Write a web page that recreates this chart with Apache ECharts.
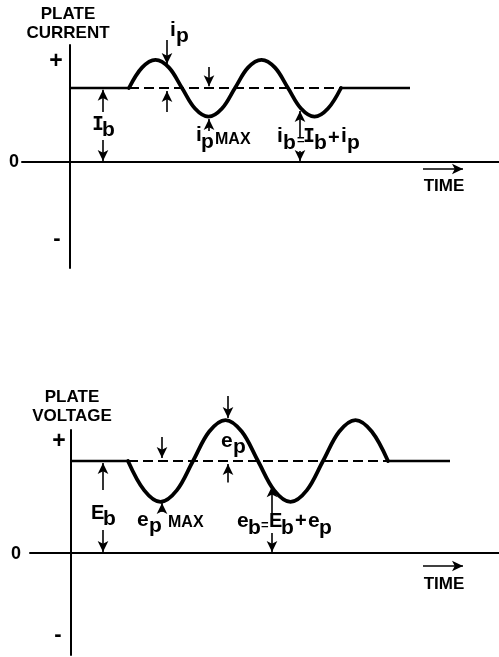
<!DOCTYPE html>
<html>
<head>
<meta charset="utf-8">
<script src="https://cdn.jsdelivr.net/npm/echarts@6/dist/echarts.min.js"></script>
<style>
  html, body { margin: 0; padding: 0; background: #fff; }
  #chart { width: 499px; height: 657px; }
</style>
</head>
<body>
<div id="chart"></div>
<script>
// --- plate current (top panel) ---
const curWaveT = [11.8, 14.4, 17.1, 19.8, 22.4, 25.0, 27.7, 30.4, 33.0, 35.6, 38.3, 41.0, 43.6, 46.2, 48.9, 51.6, 54.2];
const curWaveI = [4, 5.1, 5.52, 5.1, 4, 2.89, 2.45, 2.89, 4, 5.1, 5.52, 5.1, 4, 2.89, 2.45, 2.89, 4];
const curIb = 4;
const curEnd = 68;
// arrows: [t, from, to]
const curArrows = [
  [6.6, 2.7, 3.9], [6.6, 1.19, 0.05],
  [19.4, 6.6, 5.3], [19.4, 2.7, 3.84],
  [27.8, 5.14, 4.1], [27.8, 1.68, 2.32],
  [46.0, 1.35, 2.75], [46.0, 0.6, 0.05]
];
const curTimeArrow = [70.6, 78.6, -0.38];

// --- plate voltage (bottom panel) ---
const voltWaveT = [11.4, 14.65, 17.9, 21.15, 24.4, 27.65, 30.9, 34.15, 37.4, 40.65, 43.9, 47.15, 50.4, 53.65, 56.9, 60.15, 63.4];
const voltWaveE = [4, 2.72, 2.22, 2.72, 4, 5.28, 5.78, 5.28, 4, 2.72, 2.22, 2.72, 4, 5.28, 5.78, 5.28, 4];
const voltEb = 4;
const voltEnd = 75.8;
const voltArrows = [
  [6.4, 2.74, 3.91], [6.4, 1.0, 0.04],
  [18.2, 5.04, 4.13], [18.2, 1.78, 2.17],
  [31.4, 6.83, 5.87], [31.4, 3.07, 3.87],
  [40.2, 1.43, 2.9], [40.2, 0.87, 0.04]
];
const voltTimeArrow = [70.4, 78.4, -0.565];

const FONT = '"Liberation Sans", Arial, sans-serif';
const MONO = '"DejaVu Sans Mono", monospace';

function zip(a, b) { return a.map((v, i) => [v, b[i]]); }

function txt(x, y, s, size, align, family) {
  return {
    type: 'text', x: x, y: y, silent: true,
    style: {
      text: s, fontSize: size, fontWeight: 'bold', fontFamily: family || FONT,
      fill: '#000', align: align || 'left', verticalAlign: 'middle'
    }
  };
}

function markArrows(list, time) {
  const data = list.map(a => [{ coord: [a[0], a[1]] }, { coord: [a[0], a[2]] }]);
  data.push([{ coord: [time[0], time[2]] }, { coord: [time[1], time[2]] }]);
  return {
    silent: true,
    symbol: ['none', 'arrow'],
    symbolSize: [8, 11],
    label: { show: false },
    lineStyle: { color: '#000', width: 1.6, type: 'solid' },
    emphasis: { disabled: true },
    animation: false,
    data: data
  };
}

function baseSeries(xi, t0, t1, level, dashed, extra) {
  return Object.assign({
    type: 'line', xAxisIndex: xi, yAxisIndex: xi,
    data: [[t0, level], [t1, level]],
    showSymbol: false, silent: true, clip: false,
    lineStyle: { color: '#000', width: dashed ? 2.2 : 2.6, type: dashed ? [10, 5] : 'solid' }
  }, extra || {});
}

function waveSeries(xi, t, v) {
  return {
    type: 'line', xAxisIndex: xi, yAxisIndex: xi,
    data: zip(t, v), smooth: 0.35,
    showSymbol: false, silent: true, clip: false,
    lineStyle: { color: '#000', width: 3.8, cap: 'round', join: 'round' }
  };
}

const axisFrame = (min, max) => ({
  type: 'value', min: min, max: max,
  axisLine: { show: true, onZero: true, lineStyle: { color: '#000', width: 2 } },
  axisTick: { show: false }, axisLabel: { show: false }, splitLine: { show: false }
});
const hidden = (min, max) => ({
  type: 'value', min: min, max: max, show: false,
  axisLine: { show: false }, splitLine: { show: false }
});

const chart = echarts.init(document.getElementById('chart'), null, { renderer: 'canvas' });

chart.setOption({
  animation: false,
  backgroundColor: '#fff',
  grid: [
    { left: 22, right: 0, top: 45, height: 223 },   // top frame
    { left: 22, right: 0, top: 30, height: 238 },   // top data
    { left: 30, right: 0, top: 430, height: 225 },  // bottom frame
    { left: 30, right: 0, top: 385, height: 270 }   // bottom data
  ],
  xAxis: [
    Object.assign(axisFrame(-9.6, 85.8), { gridIndex: 0 }),
    Object.assign(hidden(-9.6, 85.8), { gridIndex: 1 }),
    Object.assign(axisFrame(-8.2, 85.6), { gridIndex: 2 }),
    Object.assign(hidden(-8.2, 85.6), { gridIndex: 3 })
  ],
  yAxis: [
    Object.assign(axisFrame(-5.73, 6.32), { gridIndex: 0 }),
    Object.assign(hidden(-5.73, 7.135), { gridIndex: 1 }),
    Object.assign(axisFrame(-4.435, 5.348), { gridIndex: 2 }),
    Object.assign(hidden(-4.435, 7.304), { gridIndex: 3 })
  ],
  series: [
    // top
    baseSeries(1, 0, curWaveT[0], curIb, false, { markLine: markArrows(curArrows, curTimeArrow) }),
    baseSeries(1, curWaveT[0], curWaveT[curWaveT.length - 1], curIb, true),
    baseSeries(1, curWaveT[curWaveT.length - 1], curEnd, curIb, false),
    waveSeries(1, curWaveT, curWaveI),
    // bottom
    baseSeries(3, 0, voltWaveT[0], voltEb, false, { markLine: markArrows(voltArrows, voltTimeArrow) }),
    baseSeries(3, voltWaveT[0], voltWaveT[voltWaveT.length - 1], voltEb, true),
    baseSeries(3, voltWaveT[voltWaveT.length - 1], voltEnd, voltEb, false),
    waveSeries(3, voltWaveT, voltWaveE)
  ],
  graphic: [
    // top panel text
    txt(68, 14, 'PLATE', 17, 'center'),
    txt(68, 33, 'CURRENT', 17, 'center'),
    txt(56, 62, '+', 23, 'center'),
    txt(14, 162, '0', 18, 'center'),
    txt(57, 239, '-', 22, 'center'),
    txt(444, 186, 'TIME', 17, 'center'),
    txt(170, 30, 'i', 21), txt(176, 36, 'p', 21),
    txt(92, 125, 'I', 20, 'left', MONO), txt(102, 130, 'b', 21),
    txt(196, 135, 'i', 21), txt(201, 142, 'p', 21), txt(215, 140, 'MAX', 16),
    txt(277, 136, 'i', 21), txt(283, 143, 'b', 21), txt(297, 140, '=', 13),
    txt(303, 137, 'I', 20, 'left', MONO), txt(314, 143, 'b', 21), txt(328, 138, '+', 20),
    txt(341, 136, 'i', 21), txt(347, 143, 'p', 21),
    // bottom panel text
    txt(72, 397, 'PLATE', 17, 'center'),
    txt(72, 416, 'VOLTAGE', 17, 'center'),
    txt(59, 442, '+', 23, 'center'),
    txt(16, 554, '0', 18, 'center'),
    txt(58, 635, '-', 22, 'center'),
    txt(444, 584, 'TIME', 17, 'center'),
    txt(91, 513, 'E', 20), txt(103, 519, 'b', 21),
    txt(137, 520, 'e', 21), txt(149, 526, 'p', 21), txt(168, 523, 'MAX', 16),
    txt(221, 441, 'e', 21), txt(233, 447, 'p', 21),
    txt(237, 521, 'e', 21), txt(248, 528, 'b', 21), txt(261, 525, '=', 13),
    txt(269, 521, 'E', 20), txt(281, 528, 'b', 21), txt(295, 521, '+', 20),
    txt(308, 521, 'e', 21), txt(319, 528, 'p', 21)
  ]
});
</script>
</body>
</html>
